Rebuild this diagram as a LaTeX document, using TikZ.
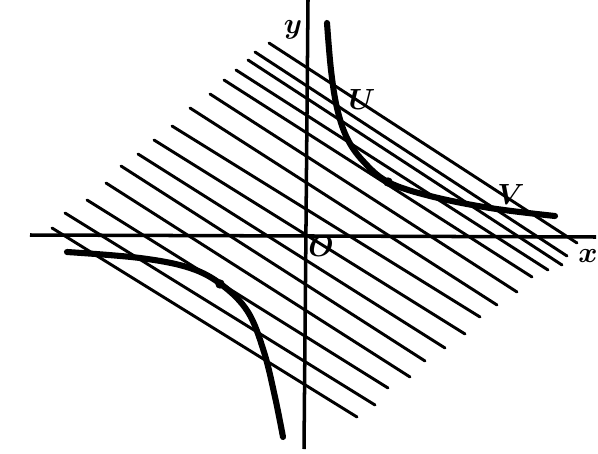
\documentclass[tikz,border=0pt]{standalone}
\usepackage{tikz}
\usetikzlibrary{calc}

\tikzset{
  hatch/.style={line width=2.5pt, line cap=round},
  axis/.style={line width=3pt},
  branch/.style={line width=5.2pt, line cap=round, line join=round},
  lbl/.style={font=\fontsize{24}{24}\selectfont\boldmath},
}

\begin{document}
\begin{tikzpicture}[x=0.03cm,y=-0.03cm]
  \useasboundingbox (0,0) rectangle (598,453);
  % parallel lines
  \foreach \xa/\ya/\xb/\yb in {269/43/577/243, 255/52/567/256, 248/60/562/265,
      236/70/548/270, 224/80/532/277, 210/94/517/292, 190/108/497/305,
      172/126/480/317, 154/140/465/334, 138/154/445/348, 121/166/425/361,
      106/183/410/377, 87/200/388/388, 65/213/375/405, 52/228/357/417}
    \draw[hatch] (\xa,\ya) -- (\xb,\yb);
  % axes
  \draw[axis] (30,235) -- (596,237);
  \draw[axis] (308,0) -- (304,449);
  % the two branches
  \draw[branch] plot[smooth,tension=0.6] coordinates
    {(327,23) (331,70) (337,108) (347,138) (363,161) (388,182) (430,196) (490,208) (555,216)};
  \draw[branch] plot[smooth,tension=0.6] coordinates
    {(67,252) (140,258) (190,268) (222,285) (248,312) (264,352) (275,397) (283,437)};
  \fill (388,182) circle (4pt);
  \fill (220,284) circle (4pt);
  % labels
  \node[lbl] (ylbl) at (293,30) {$y$};
  \node[lbl] (xlbl) at (588,256) {$x$};
  \node[lbl] (olbl) at (321,246) {$O$};
  \node[lbl] (ulbl) at (362,100) {$U$};
  \node[lbl] (vlbl) at (511,194) {$V$};
\end{tikzpicture}
\end{document}
